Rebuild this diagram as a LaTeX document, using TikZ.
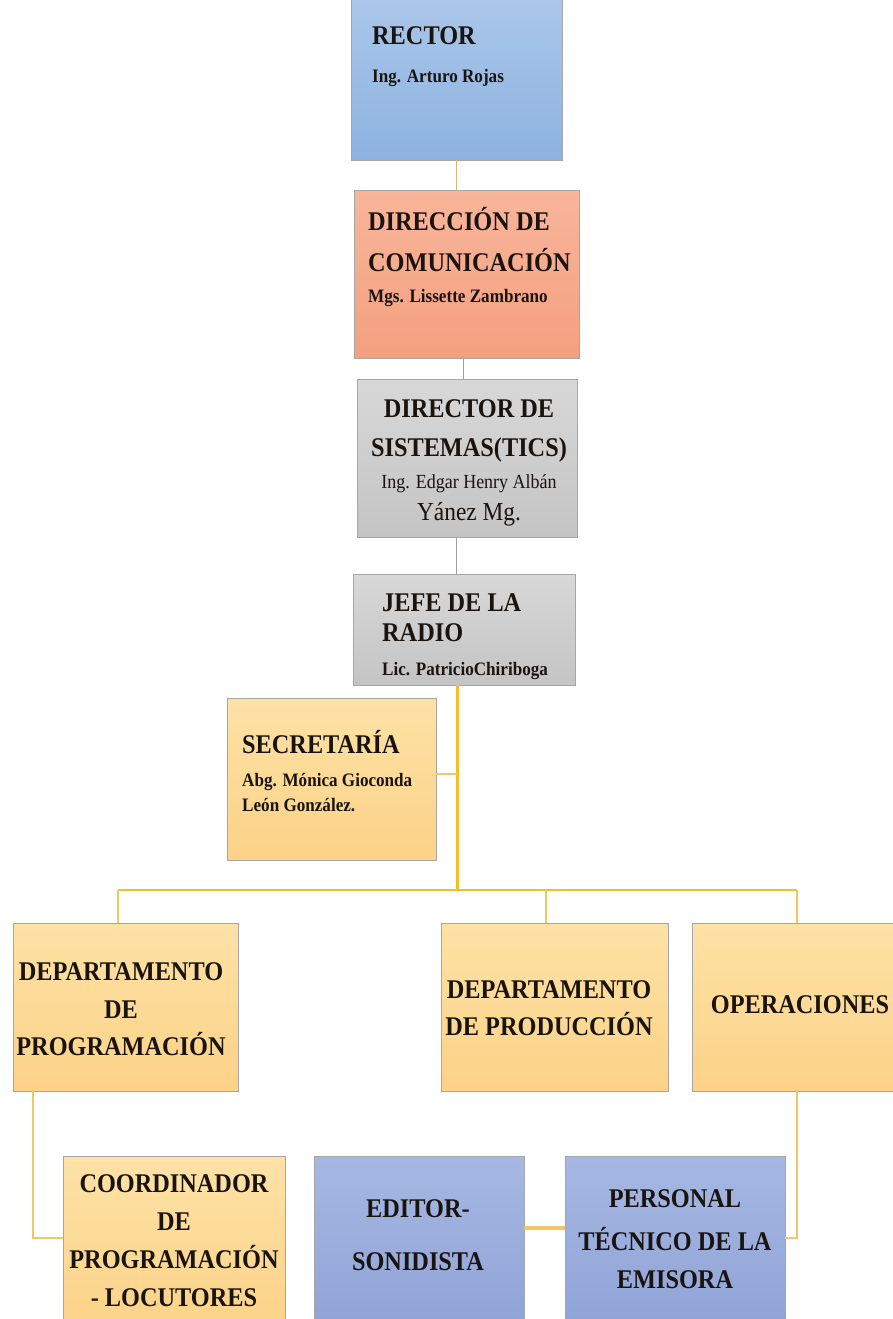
\documentclass[tikz,border=0pt]{standalone}
\usepackage{fontspec}
\setmainfont{Liberation Serif}[FakeStretch=0.9]
\usetikzlibrary{calc}
\definecolor{rectA}{HTML}{ABC7EA}
\definecolor{rectB}{HTML}{8DB2E0}
\definecolor{dirA}{HTML}{F8B59B}
\definecolor{dirB}{HTML}{F4A07F}
\definecolor{grayA}{HTML}{D8D8D8}
\definecolor{grayB}{HTML}{C4C4C4}
\definecolor{orA}{HTML}{FDE2A6}
\definecolor{orB}{HTML}{FCD287}
\definecolor{blA}{HTML}{A6B8E2}
\definecolor{blB}{HTML}{8EA2D6}
\definecolor{gold}{HTML}{F3BD2C}
\definecolor{goldl}{HTML}{EEC866}
\definecolor{tan}{HTML}{D9BA74}
\definecolor{lgray}{HTML}{A0A0A0}
\definecolor{txtc}{HTML}{1A1410}
\newcommand\fa{\fontsize{27}{38}\selectfont\bfseries}
\newcommand\fb{\fontsize{19}{23}\selectfont\bfseries}
\newcommand\fc{\fontsize{20}{23}\selectfont\mdseries}
\newcommand\fd{\fontsize{26}{30}\selectfont\mdseries}
\begin{document}
\begin{tikzpicture}[x=1pt,y=-1pt,
  bx/.style={rectangle, inner sep=0, draw=black!35, line width=0.8pt},
  rbox/.style={bx, top color=rectA, bottom color=rectB},
  dbox/.style={bx, top color=dirA, bottom color=dirB},
  gbox/.style={bx, top color=grayA, bottom color=grayB},
  obox/.style={bx, top color=orA, bottom color=orB},
  bbox/.style={bx, top color=blA, bottom color=blB},
  txt/.style={inner sep=0, anchor=base, text=txtc, font=\fa},
  txtl/.style={txt, anchor=base west}]
\useasboundingbox (0,0) rectangle (893,1319);
\clip (0,0) rectangle (893,1319);
\fill[white] (0,0) rectangle (893,1319);

% boxes
\node[rbox, minimum width=211pt, minimum height=165pt] (rector) at (456.5,77.5) {};
\node[dbox, minimum width=225pt, minimum height=168pt] (dir) at (466.5,274) {};
\node[gbox, minimum width=220pt, minimum height=158pt] (sis) at (467,458) {};
\node[gbox, minimum width=222pt, minimum height=111pt] (jefe) at (464,629.5) {};
\node[obox, minimum width=209pt, minimum height=162pt] (sec) at (331.5,779) {};
\node[obox, minimum width=225pt, minimum height=168pt] (prog) at (125.5,1007) {};
\node[obox, minimum width=227pt, minimum height=168pt] (prod) at (554.5,1007) {};
\node[obox, minimum width=210pt, minimum height=168pt] (ope) at (797,1007) {};
\node[obox, minimum width=222pt, minimum height=179pt] (coord) at (174,1245.5) {};
\node[bbox, minimum width=210pt, minimum height=179pt] (ed) at (419,1245.5) {};
\node[bbox, minimum width=220pt, minimum height=179pt] (pers) at (675,1245.5) {};

% texts
\node[txtl] (trector) at (372,45) {\begin{tabular}[t]{@{}l@{}}RECTOR\\ \fb Ing. Arturo Rojas\end{tabular}};
\node[txtl] (tdir) at (368,230) {\begin{tabular}[t]{@{}l@{}}DIRECCIÓN DE\\[3pt] COMUNICACIÓN\\[-7pt] \fb Mgs. Lissette Zambrano\end{tabular}};
\node[txt] (tsis) at (469,417) {\begin{tabular}[t]{@{}c@{}}DIRECTOR DE\\[1pt] SISTEMAS(TICS)\\[-6pt] \fc Ing. Edgar Henry Albán\\[-6pt] \fd Yánez Mg.\end{tabular}};
\node[txtl] (tjefe) at (382,611) {\begin{tabular}[t]{@{}l@{}}JEFE DE LA\\[-8pt] RADIO\\[-4pt] \fb Lic. PatricioChiriboga\end{tabular}};
\node[txtl] (tsec) at (242,753) {\begin{tabular}[t]{@{}l@{}}SECRETARÍA\\[-5pt] \fb Abg. Mónica Gioconda\\[-13pt] \fb León González.\end{tabular}};
\node[txt] (tprog) at (121,980) {\begin{tabular}[t]{@{}c@{}}DEPARTAMENTO\\ DE\\[-1pt] PROGRAMACIÓN\end{tabular}};
\node[txt] (tprod) at (549,998) {\begin{tabular}[t]{@{}c@{}}DEPARTAMENTO\\[-1pt] DE PRODUCCIÓN\end{tabular}};
\node[txt] (tope) at (800,1013) {OPERACIONES};
\node[txt] (tcoord) at (174,1192) {\begin{tabular}[t]{@{}c@{}}COORDINADOR\\ DE\\ PROGRAMACIÓN\\ - LOCUTORES\end{tabular}};
\node[txt] (ted) at (418,1217) {\begin{tabular}[t]{@{}c@{}}EDITOR-\\[15pt] SONIDISTA\end{tabular}};
\node[txt] (tpers) at (675,1207) {\begin{tabular}[t]{@{}c@{}}PERSONAL\\[5pt] TÉCNICO DE LA\\ EMISORA\end{tabular}};

% connector points
\coordinate (bus) at (457,890);
\coordinate (busL) at (118,890);
\coordinate (busP) at (546,890);
\coordinate (busR) at (797,890);
\coordinate (secc) at (457,774);
\coordinate (pc) at (33,1238);
\coordinate (oc) at (797,1238);
\coordinate (ep) at (545,1228);
\coordinate (sj) at (456,0);

% connectors
\draw[tan, line width=1.2pt] (rector.south) -- (rector.south |- dir.north);
\draw[lgray, line width=1pt] ([xshift=-3pt]dir.south) -- ([xshift=-3pt]dir.south |- sis.north);
\draw[lgray, line width=1pt] (sis.south -| sj) -- (jefe.north -| sj);
\draw[gold, line width=3pt] (jefe.south -| bus) -- (bus);
\draw[goldl, line width=2pt] (sec.east |- secc) -- (secc);
\draw[gold, line width=2pt] (busL) -- (busR);
\draw[goldl, line width=1.5pt] (busL) -- (busL |- prog.north);
\draw[goldl, line width=1.5pt] (busP) -- (busP |- prod.north);
\draw[goldl, line width=1.5pt] (busR) -- (ope.north);
\draw[goldl, line width=1.5pt] (prog.south -| pc) -- (pc) -- (pc -| coord.west);
\draw[goldl, line width=1.5pt] (ope.south) -- (oc) -- (oc -| pers.east);
\draw[goldl, line width=4pt] (ed.east |- ep) -- (pers.west |- ep);
\end{tikzpicture}
\end{document}
